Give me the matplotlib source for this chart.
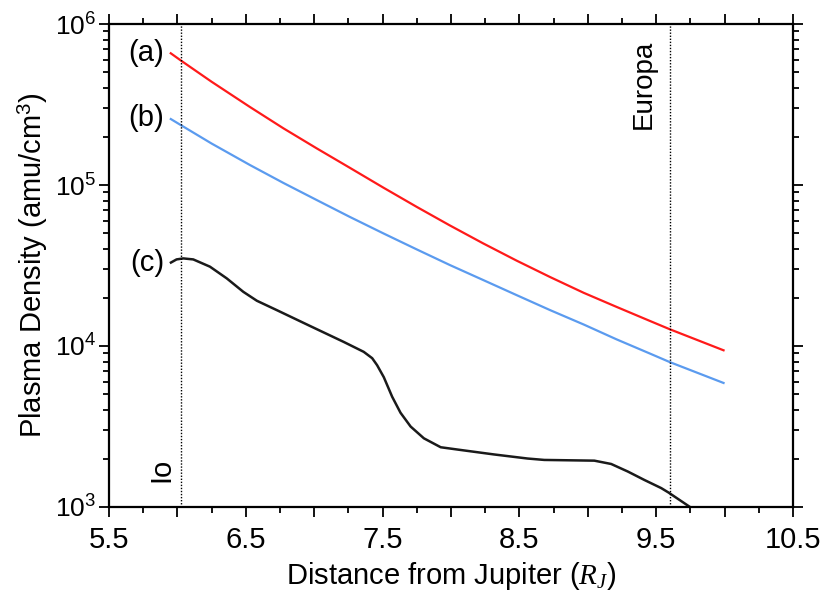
#!/usr/bin/env python3
"""
Plasma density vs distance from Jupiter, three profiles (a), (b), (c).
"""
import matplotlib
matplotlib.use('Agg')
import matplotlib.pyplot as plt
from matplotlib.ticker import FixedLocator, FuncFormatter, LogLocator, LogFormatterMathtext, NullFormatter

plt.rcParams['font.family'] = ['Liberation Sans', 'DejaVu Sans']
plt.rcParams['mathtext.fontset'] = 'custom'
plt.rcParams['mathtext.rm'] = 'Liberation Sans'
plt.rcParams['mathtext.it'] = 'Liberation Serif:italic'

# ── Data ───────────────────────────────────────────────────────────────────
r_a = [5.945, 6.031, 6.25, 6.531, 6.775, 7.018, 7.26, 7.505, 7.75, 7.99,
       8.235, 8.48, 8.725, 8.97, 9.21, 9.455, 9.6, 10.0]
n_a = [6.64e5, 5.89e5, 4.38e5, 3.05e5, 2.25e5, 1.69e5, 1.28e5, 9.64e4, 7.31e4, 5.62e4,
       4.34e4, 3.39e4, 2.68e4, 2.14e4, 1.75e4, 1.43e4, 1.27e4, 9.35e3]

r_b = [5.945, 6.031, 6.25, 6.531, 6.775, 7.018, 7.26, 7.505, 7.75, 7.993,
       8.235, 8.48, 8.725, 8.97, 9.21, 9.455, 9.6, 10.0]
n_b = [2.59e5, 2.34e5, 1.81e5, 1.33e5, 1.03e5, 8.07e4, 6.34e4, 5.01e4, 3.98e4, 3.18e4,
       2.57e4, 2.07e4, 1.67e4, 1.36e4, 1.10e4, 8.97e3, 7.94e3, 5.86e3]

r_c = [5.945, 5.994, 6.043, 6.116, 6.238, 6.361, 6.482, 6.581, 6.727, 6.971,
       7.216, 7.362, 7.424, 7.460, 7.509, 7.570, 7.631, 7.705, 7.802, 7.925,
       8.071, 8.315, 8.560, 8.682, 9.048, 9.171, 9.293, 9.415, 9.537, 9.59, 9.747]
n_c = [3.27e4, 3.45e4, 3.50e4, 3.45e4, 3.11e4, 2.63e4, 2.17e4, 1.91e4, 1.67e4, 1.33e4,
       1.06e4, 9.2e3, 8.4e3, 7.6e3, 6.4e3, 4.84e3, 3.85e3, 3.16e3, 2.67e3, 2.35e3,
       2.26e3, 2.12e3, 2.00e3, 1.96e3, 1.94e3, 1.85e3, 1.66e3, 1.47e3, 1.31e3, 1.23e3, 1.00e3]

curve_labels = ['(a)', '(b)', '(c)']
moons = ['Io', 'Europa']
moon_r = [6.03, 9.6]

x_major = [5.5, 6.0, 6.5, 7.0, 7.5, 8.0, 8.5, 9.0, 9.5, 10.0, 10.5]
x_labeled = [5.5, 6.5, 7.5, 8.5, 9.5, 10.5]

# ── Plot ────────────────────────────────────────────────────────────────────
fig = plt.figure(figsize=(8.3, 6.05), dpi=100)
ax = fig.add_axes([0.1313, 0.1620, 0.8241, 0.7983])

line_kw = dict(solid_joinstyle='round', solid_capstyle='butt')
ax.plot(r_a, n_a, color='#ff1a1a', lw=1.6, **line_kw)
ax.plot(r_b, n_b, color='#5b9bef', lw=1.6, **line_kw)
ax.plot(r_c, n_c, color='#1a1a1a', lw=1.8, **line_kw)

for r in moon_r:
    ax.axvline(r, color='black', lw=1.0, ls=(0, (1, 1.2)))

ax.set_yscale('log')
ax.set_xlim(5.5, 10.5)
ax.set_ylim(1e3, 1e6)

ax.xaxis.set_major_locator(FixedLocator(x_major))
ax.xaxis.set_minor_locator(FixedLocator([5.5 + 0.25 * i for i in range(21)]))
ax.xaxis.set_major_formatter(FuncFormatter(
    lambda v, p: f'{v:g}' if any(abs(v - t) < 1e-6 for t in x_labeled) else ''))
ax.yaxis.set_major_locator(LogLocator(base=10))
ax.yaxis.set_major_formatter(LogFormatterMathtext())
ax.yaxis.set_minor_locator(LogLocator(base=10, subs=range(2, 10)))
ax.yaxis.set_minor_formatter(NullFormatter())

ax.tick_params(which='both', direction='out', top=True, right=True, width=1.3)
ax.tick_params(which='major', length=7)
ax.tick_params(which='minor', length=4.5)
ax.tick_params(axis='x', labelsize=21, pad=7)
ax.tick_params(axis='y', labelsize=19, pad=2)
for s in ax.spines.values():
    s.set_linewidth(1.6)

ax.set_xlabel('Distance from Jupiter ($R_J$)', fontsize=21, labelpad=4)
ax.set_ylabel('Plasma Density (amu/cm$^3$)', fontsize=21, labelpad=4)

for lab, xs, ys in zip(curve_labels, [r_a, r_b, r_c], [n_a, n_b, n_c]):
    ax.annotate(lab, (xs[0], ys[0]), xytext=(-4, 0), textcoords='offset points',
                ha='right', va='center', fontsize=21)

ax.text(5.88, 1.7e3, moons[0], rotation=90, ha='center', va='center', fontsize=21)
ax.text(9.41, 4.24e5, moons[1], rotation=90, ha='center', va='center', fontsize=20)

fig.savefig('out.png', dpi=100)
plt.close(fig)
print('[+] Saved: out.png')
